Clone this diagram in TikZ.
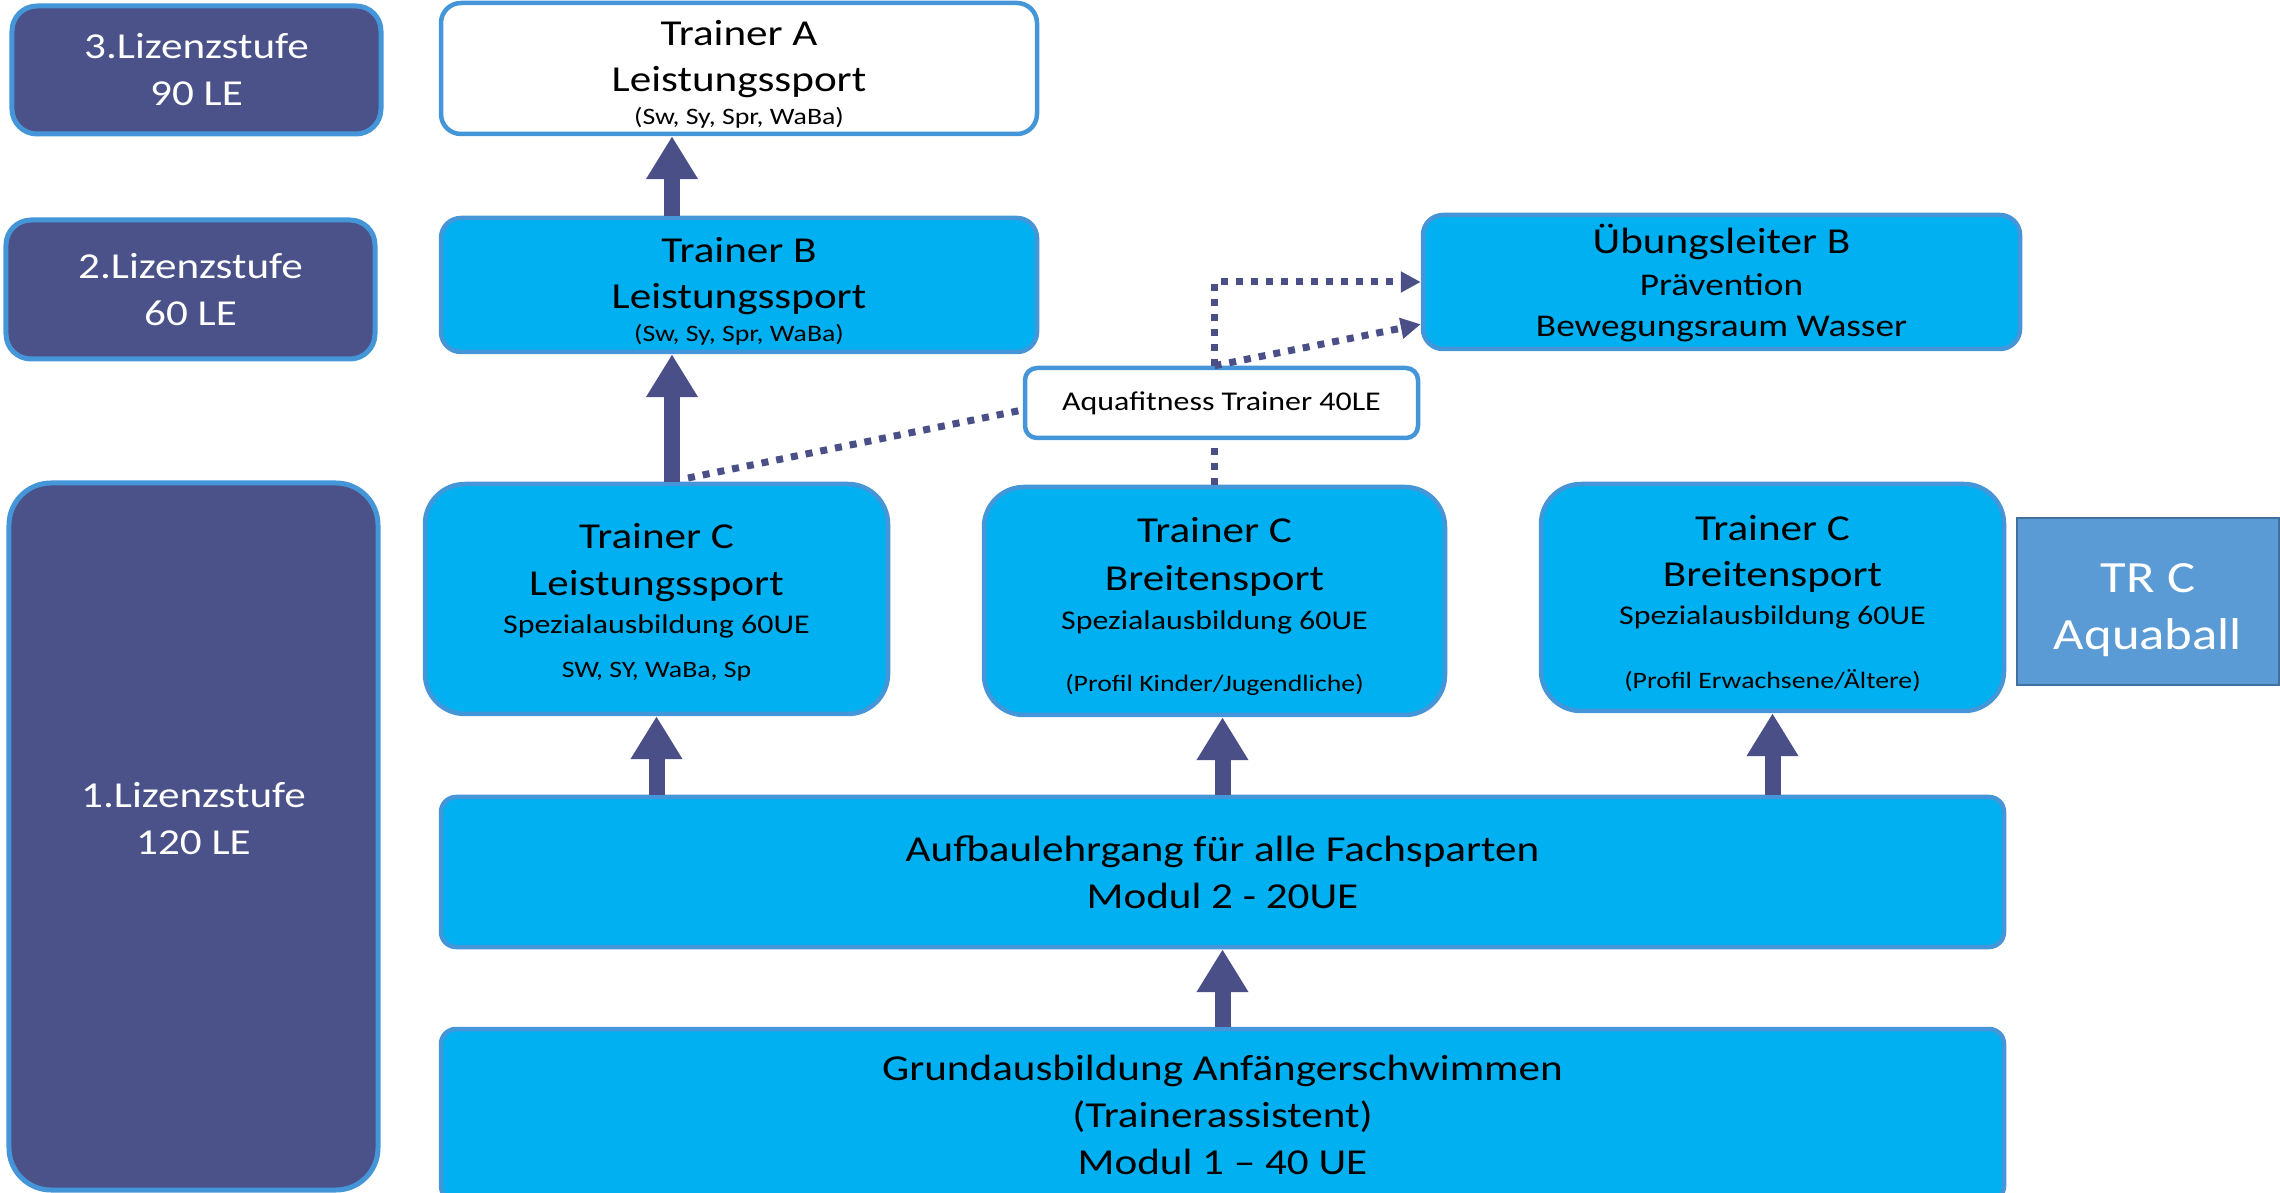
\documentclass[tikz,border=0pt]{standalone}
\usepackage{fontspec}
\setmainfont[FakeStretch=1.18]{Carlito}
\usetikzlibrary{arrows.meta}

\definecolor{stufefarbe}{RGB}{75,82,137}
\definecolor{randblau}{RGB}{68,150,216}
\definecolor{kastenblau}{RGB}{0,176,240}
\definecolor{pfeilfarbe}{RGB}{74,80,135}
\definecolor{aquaballblau}{RGB}{91,155,213}
\definecolor{aquaballrand}{RGB}{65,113,156}

\newcommand{\gross}{\fontsize{10.4}{13.4}\selectfont}
\newcommand{\mittel}{\fontsize{7.7}{11}\selectfont}
\newcommand{\klein}{\fontsize{6.7}{9.7}\selectfont}
\newcommand{\oben}[1]{\rule{0pt}{#1}}

\begin{document}
\begin{tikzpicture}[
	stufe/.style={draw=randblau, fill=stufefarbe, line width=0.05cm, rounded corners=0.25cm, text=white, align=center, font=\gross, minimum width=3.69cm},
	kasten/.style={draw=randblau, fill=kastenblau, line width=0.045cm, rounded corners=0.2cm, align=center, font=\gross, inner ysep=0pt},
	weiss/.style={kasten, fill=white},
	pfeil/.style={draw=pfeilfarbe, line width=0.16cm, -{Triangle[width=0.49cm,length=0.43cm]}},
	punkte/.style={draw=pfeilfarbe, line width=0.07cm, dash pattern=on 0.07cm off 0.08cm},
	spitze/.style={-{Triangle[width=0.2cm,length=0.2cm]}}
	]
	\useasboundingbox (0,0) rectangle (22.8,-11.93);
	\clip (0,0) rectangle (22.8,-11.93);

	\node[stufe, minimum height=1.28cm] (stufe3) at (1.965,-0.70) {3.Lizenzstufe\\90 LE};
	\node[stufe, minimum height=1.39cm] (stufe2) at (1.905,-2.895) {2.Lizenzstufe\\60 LE};
	\node[stufe, minimum height=7.07cm, rounded corners=0.42cm] (stufe1) at (1.935,-8.365) {};
	\node[text=white, font=\gross, align=center] (stufe1text) at (1.935,-8.185) {1.Lizenzstufe\\120 LE};

	\node[weiss, minimum width=5.96cm, minimum height=1.31cm] (trA) at (7.39,-0.685)
		{\oben{10.5pt}Trainer A\\[-0.2pt]Leistungssport\\[-3.9pt]{\klein (Sw, Sy, Spr, WaBa)}};
	\node[kasten, minimum width=5.96cm, minimum height=1.34cm] (trB) at (7.39,-2.85)
		{\oben{10.8pt}Trainer B\\[-0.2pt]Leistungssport\\[-3.9pt]{\klein (Sw, Sy, Spr, WaBa)}};
	\node[kasten, minimum width=5.97cm, minimum height=1.34cm] (ulB) at (17.215,-2.82)
		{\oben{9pt}Übungsleiter B\\[-1.7pt]{\fontsize{9}{11.7}\selectfont Prävention}\\[-1.7pt]{\fontsize{9}{11.7}\selectfont Bewegungsraum Wasser}};
	\node[weiss, minimum width=3.93cm, minimum height=0.70cm, rounded corners=0.12cm, font=\mittel] (aquafit) at (12.215,-4.03)
		{Aquafitness Trainer 40LE};

	\node[kasten, minimum width=4.63cm, minimum height=2.30cm, rounded corners=0.4cm] (trCL) at (6.565,-5.99)
		{\oben{9pt}Trainer C\\Leistungssport\\[-2.6pt]{\mittel Spezialausbildung 60UE}\\[-0.9pt]{\klein SW, SY, WaBa, Sp}};
	\node[kasten, minimum width=4.61cm, minimum height=2.28cm, rounded corners=0.4cm] (trCB1) at (12.145,-6.01)
		{\oben{10.5pt}Trainer C\\Breitensport\\[-2.3pt]{\mittel Spezialausbildung 60UE}\\[4.5pt]{\klein (Profil Kinder/Jugendliche)}};
	\node[kasten, minimum width=4.63cm, minimum height=2.27cm, rounded corners=0.4cm] (trCB2) at (17.725,-5.975)
		{\oben{10.5pt}Trainer C\\[-0.3pt]Breitensport\\[-2.6pt]{\mittel Spezialausbildung 60UE}\\[4.8pt]{\klein (Profil Erwachsene/Ältere)}};
	\node[draw=aquaballrand, fill=aquaballblau, line width=0.02cm, minimum width=2.62cm, minimum height=1.67cm, text=white, align=center, font=\fontsize{12.7}{16.2}\selectfont] (aquaball) at (21.48,-6.015)
		{\oben{13pt}TR C\\Aquaball};

	\node[kasten, minimum width=15.63cm, minimum height=1.50cm, rounded corners=0.15cm] (aufbau) at (12.225,-8.72)
		{Aufbaulehrgang für alle Fachsparten\\Modul 2 - 20UE};
	\node[kasten, minimum width=15.63cm, minimum height=1.72cm, rounded corners=0.15cm] (grund) at (12.225,-11.15)
		{Grundausbildung Anfängerschwimmen\\(Trainerassistent)\\Modul 1 – 40 UE};

	\coordinate (spurB) at (6.72,0);
	\coordinate (abzweig) at (6.88,-4.78);

	\draw[pfeil] (trB.north -| spurB) -- (trA.south -| spurB);
	\draw[pfeil] (trCL.north -| spurB) -- (trB.south -| spurB);
	\draw[pfeil] (aufbau.north -| trCL.south) -- (trCL.south);
	\draw[pfeil] (aufbau.north) -- (trCB1.south -| aufbau.north);
	\draw[pfeil] (aufbau.north -| trCB2.south) -- (trCB2.south);
	\draw[pfeil] (grund.north) -- (aufbau.south);

	\draw[punkte] (abzweig) -- (aquafit.182);
	\draw[punkte] (trCB1.north) -- (aquafit.south -| trCB1.north);
	\draw[punkte, spitze] (aquafit.north -| trCB1.north) |- (ulB.west);
	\draw[punkte, spitze] (aquafit.north -| trCB1.north) -- (ulB.188);
\end{tikzpicture}
\end{document}
